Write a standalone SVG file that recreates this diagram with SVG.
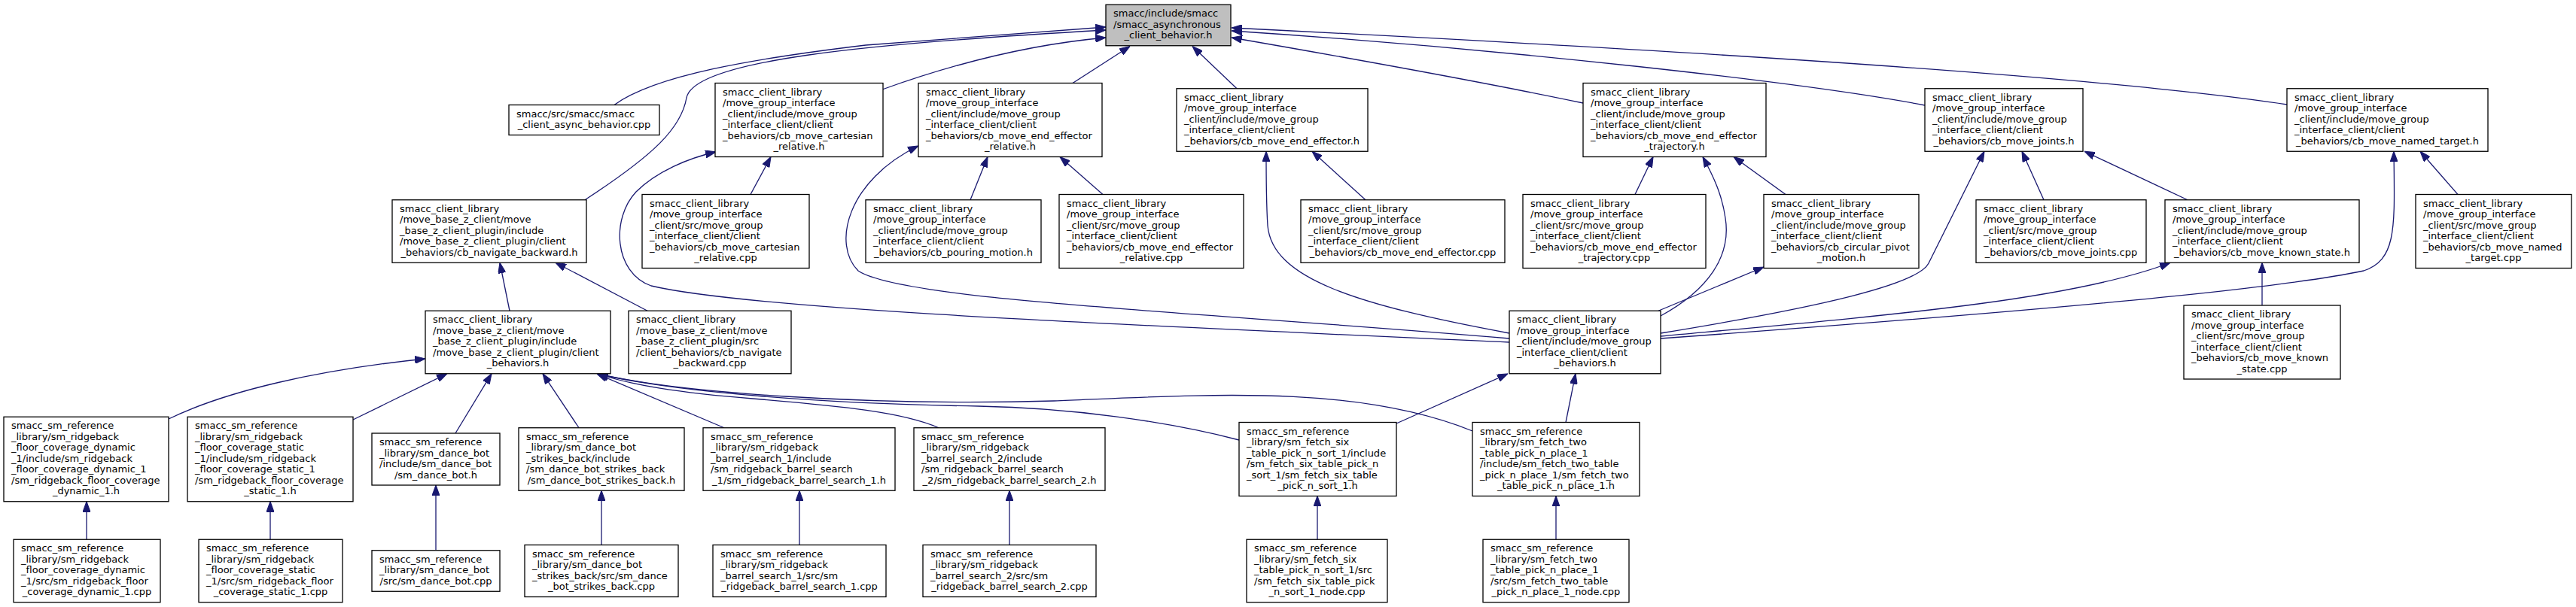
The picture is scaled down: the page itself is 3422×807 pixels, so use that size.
<svg xmlns="http://www.w3.org/2000/svg" width="3422" height="807" viewBox="0 0 3422 807">
<style>
.node rect{fill:#ffffff;stroke:#000000;stroke-width:1.3}
.node.root rect{fill:#bfbfbf}
.node text{font-family:"DejaVu Sans",sans-serif;font-size:13px;fill:#000000}
.c{text-anchor:middle}
.edges path{fill:none;stroke:#191970;stroke-width:1.3;marker-end:url(#ah)}
</style>
<defs>
<marker id="ah" markerUnits="userSpaceOnUse" markerWidth="14" markerHeight="10" viewBox="0 0 13 9.4" refX="13" refY="4.7" orient="auto">
<path d="M0,0 L13,4.7 L0,9.4 z" fill="#191970" stroke="#191970" stroke-width="1"/>
</marker>
</defs>
<rect x="0" y="0" width="3422" height="807" fill="#ffffff"/>
<g id="connectors" class="edges">
<path d="M816,139.5 C870,100 1000,78 1150,60 C1300,48 1420,40 1469,36"/>
<path d="M777,265.75 C870,205 905,170 912,130 C922,80 1150,58 1469,40"/>
<path d="M1172,119 C1280,80 1380,58 1469,50"/>
<path d="M1425,110.5 L1501,61.5"/>
<path d="M1643,117.75 L1584,61.5"/>
<path d="M2103,137 C1950,105 1780,75 1636,50"/>
<path d="M2557,140 C2400,110 2000,65 1636,41"/>
<path d="M3038,139 C2850,110 2400,75 1636,37"/>
<path d="M997,258.5 L1024,208.5"/>
<path d="M1289,265.75 L1312,208.5"/>
<path d="M1465,258.5 L1408,208.5"/>
<path d="M1814,265.75 L1743,201.25"/>
<path d="M2172,258.5 L2196,208.5"/>
<path d="M2372,258.5 L2303,208.5"/>
<path d="M2715,265.75 L2686,201.25"/>
<path d="M2906,265.75 L2769,201.25"/>
<path d="M3265,258.5 L3215,201.25"/>
<path d="M677,413.25 L664,349.25"/>
<path d="M860,413.25 L738,349.25"/>
<path d="M3005,406 L3005,349.25"/>
<path d="M2203,413.25 L2343,355"/>
<path d="M2206,420 C2270,385 2300,340 2292,290 C2288,260 2276,234 2262,208.5"/>
<path d="M2206,443 C2420,408 2548,378 2562,350 L2636,201.25"/>
<path d="M2206,447 C2500,420 2750,400 2883,349.25"/>
<path d="M2206,450 C2550,425 3000,390 3140,360 C3185,345 3181,300 3180,201.25"/>
<path d="M2005,443 C1800,405 1690,370 1684,300 C1682,270 1682,240 1682,201.25"/>
<path d="M2005,450 C1600,415 1200,400 1140,360 C1105,325 1125,240 1220,194"/>
<path d="M2005,455 C1500,432 1000,412 865,380 C815,362 812,290 845,255 C872,228 915,210 951,202"/>
<path d="M1855,563 L2003,497"/>
<path d="M2080,561.5 L2093,496.75"/>
<path d="M224,557 C300,520 420,492 565,477"/>
<path d="M469,558 L594,496.75"/>
<path d="M605,576 L653,496.75"/>
<path d="M769,568.75 L721,496.75"/>
<path d="M962,568.75 L793,497"/>
<path d="M1247,568.75 C1200,548 1120,540 1000,530 C900,522 840,512 794,497"/>
<path d="M1646,585 C1550,560 1420,542 1300,540 C1100,537 900,522 794,497"/>
<path d="M1956,573 C1800,510 1600,525 1400,533 C1150,540 900,522 794,497"/>
<path d="M115,717.25 L115,666.75"/>
<path d="M359,717.25 L359,666.75"/>
<path d="M579,731.75 L579,645"/>
<path d="M799,724.5 L799,652.25"/>
<path d="M1062,724.5 L1062,652.25"/>
<path d="M1341,724.5 L1341,652.25"/>
<path d="M1750,717.25 L1750,659.5"/>
<path d="M2067,717.25 L2067,659.5"/>
</g>
<g id="n_root" class="node root"><rect x="1469" y="6.25" width="166" height="54.5"/><text><tspan x="1479" y="22.3">smacc/include/smacc</tspan><tspan x="1479" y="36.8">/smacc_asynchronous</tspan><tspan class="c" x="1552" y="51.3">_client_behavior.h</tspan></text></g>
<g id="n_async_cpp" class="node"><rect x="676" y="139.5" width="200" height="40"/><text><tspan x="686" y="155.5">smacc/src/smacc/smacc</tspan><tspan class="c" x="776" y="170">_client_async_behavior.cpp</tspan></text></g>
<g id="n_cart_h" class="node"><rect x="950" y="110.5" width="223" height="98"/><text><tspan x="960" y="126.55">smacc_client_library</tspan><tspan x="960" y="141.05">/move_group_interface</tspan><tspan x="960" y="155.55">_client/include/move_group</tspan><tspan x="960" y="170.05">_interface_client/client</tspan><tspan x="960" y="184.55">_behaviors/cb_move_cartesian</tspan><tspan class="c" x="1061.5" y="199.05">_relative.h</tspan></text></g>
<g id="n_eer_h" class="node"><rect x="1220" y="110.5" width="244" height="98"/><text><tspan x="1230" y="126.55">smacc_client_library</tspan><tspan x="1230" y="141.05">/move_group_interface</tspan><tspan x="1230" y="155.55">_client/include/move_group</tspan><tspan x="1230" y="170.05">_interface_client/client</tspan><tspan x="1230" y="184.55">_behaviors/cb_move_end_effector</tspan><tspan class="c" x="1342" y="199.05">_relative.h</tspan></text></g>
<g id="n_ee_h" class="node"><rect x="1563" y="117.75" width="254" height="83.5"/><text><tspan x="1573" y="133.8">smacc_client_library</tspan><tspan x="1573" y="148.3">/move_group_interface</tspan><tspan x="1573" y="162.8">_client/include/move_group</tspan><tspan x="1573" y="177.3">_interface_client/client</tspan><tspan class="c" x="1690" y="191.8">_behaviors/cb_move_end_effector.h</tspan></text></g>
<g id="n_eet_h" class="node"><rect x="2103" y="110.5" width="243" height="98"/><text><tspan x="2113" y="126.55">smacc_client_library</tspan><tspan x="2113" y="141.05">/move_group_interface</tspan><tspan x="2113" y="155.55">_client/include/move_group</tspan><tspan x="2113" y="170.05">_interface_client/client</tspan><tspan x="2113" y="184.55">_behaviors/cb_move_end_effector</tspan><tspan class="c" x="2224.5" y="199.05">_trajectory.h</tspan></text></g>
<g id="n_joints_h" class="node"><rect x="2557" y="117.75" width="210" height="83.5"/><text><tspan x="2567" y="133.8">smacc_client_library</tspan><tspan x="2567" y="148.3">/move_group_interface</tspan><tspan x="2567" y="162.8">_client/include/move_group</tspan><tspan x="2567" y="177.3">_interface_client/client</tspan><tspan class="c" x="2662" y="191.8">_behaviors/cb_move_joints.h</tspan></text></g>
<g id="n_named_h" class="node"><rect x="3038" y="117.75" width="267" height="83.5"/><text><tspan x="3048" y="133.8">smacc_client_library</tspan><tspan x="3048" y="148.3">/move_group_interface</tspan><tspan x="3048" y="162.8">_client/include/move_group</tspan><tspan x="3048" y="177.3">_interface_client/client</tspan><tspan class="c" x="3171.5" y="191.8">_behaviors/cb_move_named_target.h</tspan></text></g>
<g id="n_nav_back_h" class="node"><rect x="521" y="265.75" width="258" height="83.5"/><text><tspan x="531" y="281.8">smacc_client_library</tspan><tspan x="531" y="296.3">/move_base_z_client/move</tspan><tspan x="531" y="310.8">_base_z_client_plugin/include</tspan><tspan x="531" y="325.3">/move_base_z_client_plugin/client</tspan><tspan class="c" x="650" y="339.8">_behaviors/cb_navigate_backward.h</tspan></text></g>
<g id="n_cart_cpp" class="node"><rect x="853" y="258.5" width="222" height="98"/><text><tspan x="863" y="274.55">smacc_client_library</tspan><tspan x="863" y="289.05">/move_group_interface</tspan><tspan x="863" y="303.55">_client/src/move_group</tspan><tspan x="863" y="318.05">_interface_client/client</tspan><tspan x="863" y="332.55">_behaviors/cb_move_cartesian</tspan><tspan class="c" x="964" y="347.05">_relative.cpp</tspan></text></g>
<g id="n_pour_h" class="node"><rect x="1150" y="265.75" width="233" height="83.5"/><text><tspan x="1160" y="281.8">smacc_client_library</tspan><tspan x="1160" y="296.3">/move_group_interface</tspan><tspan x="1160" y="310.8">_client/include/move_group</tspan><tspan x="1160" y="325.3">_interface_client/client</tspan><tspan class="c" x="1266.5" y="339.8">_behaviors/cb_pouring_motion.h</tspan></text></g>
<g id="n_eer_cpp" class="node"><rect x="1407" y="258.5" width="245" height="98"/><text><tspan x="1417" y="274.55">smacc_client_library</tspan><tspan x="1417" y="289.05">/move_group_interface</tspan><tspan x="1417" y="303.55">_client/src/move_group</tspan><tspan x="1417" y="318.05">_interface_client/client</tspan><tspan x="1417" y="332.55">_behaviors/cb_move_end_effector</tspan><tspan class="c" x="1529.5" y="347.05">_relative.cpp</tspan></text></g>
<g id="n_ee_cpp" class="node"><rect x="1728" y="265.75" width="271" height="83.5"/><text><tspan x="1738" y="281.8">smacc_client_library</tspan><tspan x="1738" y="296.3">/move_group_interface</tspan><tspan x="1738" y="310.8">_client/src/move_group</tspan><tspan x="1738" y="325.3">_interface_client/client</tspan><tspan class="c" x="1863.5" y="339.8">_behaviors/cb_move_end_effector.cpp</tspan></text></g>
<g id="n_eet_cpp" class="node"><rect x="2023" y="258.5" width="243" height="98"/><text><tspan x="2033" y="274.55">smacc_client_library</tspan><tspan x="2033" y="289.05">/move_group_interface</tspan><tspan x="2033" y="303.55">_client/src/move_group</tspan><tspan x="2033" y="318.05">_interface_client/client</tspan><tspan x="2033" y="332.55">_behaviors/cb_move_end_effector</tspan><tspan class="c" x="2144.5" y="347.05">_trajectory.cpp</tspan></text></g>
<g id="n_circ_h" class="node"><rect x="2343" y="258.5" width="206" height="98"/><text><tspan x="2353" y="274.55">smacc_client_library</tspan><tspan x="2353" y="289.05">/move_group_interface</tspan><tspan x="2353" y="303.55">_client/include/move_group</tspan><tspan x="2353" y="318.05">_interface_client/client</tspan><tspan x="2353" y="332.55">_behaviors/cb_circular_pivot</tspan><tspan class="c" x="2446" y="347.05">_motion.h</tspan></text></g>
<g id="n_joints_cpp" class="node"><rect x="2625" y="265.75" width="226" height="83.5"/><text><tspan x="2635" y="281.8">smacc_client_library</tspan><tspan x="2635" y="296.3">/move_group_interface</tspan><tspan x="2635" y="310.8">_client/src/move_group</tspan><tspan x="2635" y="325.3">_interface_client/client</tspan><tspan class="c" x="2738" y="339.8">_behaviors/cb_move_joints.cpp</tspan></text></g>
<g id="n_known_h" class="node"><rect x="2876" y="265.75" width="258" height="83.5"/><text><tspan x="2886" y="281.8">smacc_client_library</tspan><tspan x="2886" y="296.3">/move_group_interface</tspan><tspan x="2886" y="310.8">_client/include/move_group</tspan><tspan x="2886" y="325.3">_interface_client/client</tspan><tspan class="c" x="3005" y="339.8">_behaviors/cb_move_known_state.h</tspan></text></g>
<g id="n_named_cpp" class="node"><rect x="3209" y="258.5" width="207" height="98"/><text><tspan x="3219" y="274.55">smacc_client_library</tspan><tspan x="3219" y="289.05">/move_group_interface</tspan><tspan x="3219" y="303.55">_client/src/move_group</tspan><tspan x="3219" y="318.05">_interface_client/client</tspan><tspan x="3219" y="332.55">_behaviors/cb_move_named</tspan><tspan class="c" x="3312.5" y="347.05">_target.cpp</tspan></text></g>
<g id="n_mbz_behaviors_h" class="node"><rect x="565" y="413.25" width="246" height="83.5"/><text><tspan x="575" y="429.3">smacc_client_library</tspan><tspan x="575" y="443.8">/move_base_z_client/move</tspan><tspan x="575" y="458.3">_base_z_client_plugin/include</tspan><tspan x="575" y="472.8">/move_base_z_client_plugin/client</tspan><tspan class="c" x="688" y="487.3">_behaviors.h</tspan></text></g>
<g id="n_nav_back_cpp" class="node"><rect x="835" y="413.25" width="216" height="83.5"/><text><tspan x="845" y="429.3">smacc_client_library</tspan><tspan x="845" y="443.8">/move_base_z_client/move</tspan><tspan x="845" y="458.3">_base_z_client_plugin/src</tspan><tspan x="845" y="472.8">/client_behaviors/cb_navigate</tspan><tspan class="c" x="943" y="487.3">_backward.cpp</tspan></text></g>
<g id="n_mgi_behaviors_h" class="node"><rect x="2005" y="413.25" width="201" height="83.5"/><text><tspan x="2015" y="429.3">smacc_client_library</tspan><tspan x="2015" y="443.8">/move_group_interface</tspan><tspan x="2015" y="458.3">_client/include/move_group</tspan><tspan x="2015" y="472.8">_interface_client/client</tspan><tspan class="c" x="2105.5" y="487.3">_behaviors.h</tspan></text></g>
<g id="n_known_cpp" class="node"><rect x="2901" y="406" width="208" height="98"/><text><tspan x="2911" y="422.05">smacc_client_library</tspan><tspan x="2911" y="436.55">/move_group_interface</tspan><tspan x="2911" y="451.05">_client/src/move_group</tspan><tspan x="2911" y="465.55">_interface_client/client</tspan><tspan x="2911" y="480.05">_behaviors/cb_move_known</tspan><tspan class="c" x="3005" y="494.55">_state.cpp</tspan></text></g>
<g id="n_fcd_h" class="node"><rect x="5" y="554.25" width="219" height="112.5"/><text><tspan x="15" y="570.3">smacc_sm_reference</tspan><tspan x="15" y="584.8">_library/sm_ridgeback</tspan><tspan x="15" y="599.3">_floor_coverage_dynamic</tspan><tspan x="15" y="613.8">_1/include/sm_ridgeback</tspan><tspan x="15" y="628.3">_floor_coverage_dynamic_1</tspan><tspan x="15" y="642.8">/sm_ridgeback_floor_coverage</tspan><tspan class="c" x="114.5" y="657.3">_dynamic_1.h</tspan></text></g>
<g id="n_fcs_h" class="node"><rect x="249" y="554.25" width="220" height="112.5"/><text><tspan x="259" y="570.3">smacc_sm_reference</tspan><tspan x="259" y="584.8">_library/sm_ridgeback</tspan><tspan x="259" y="599.3">_floor_coverage_static</tspan><tspan x="259" y="613.8">_1/include/sm_ridgeback</tspan><tspan x="259" y="628.3">_floor_coverage_static_1</tspan><tspan x="259" y="642.8">/sm_ridgeback_floor_coverage</tspan><tspan class="c" x="359" y="657.3">_static_1.h</tspan></text></g>
<g id="n_dance_h" class="node"><rect x="494" y="576" width="170" height="69"/><text><tspan x="504" y="592.05">smacc_sm_reference</tspan><tspan x="504" y="606.55">_library/sm_dance_bot</tspan><tspan x="504" y="621.05">/include/sm_dance_bot</tspan><tspan class="c" x="579" y="635.55">/sm_dance_bot.h</tspan></text></g>
<g id="n_dbsb_h" class="node"><rect x="689" y="568.75" width="220" height="83.5"/><text><tspan x="699" y="584.8">smacc_sm_reference</tspan><tspan x="699" y="599.3">_library/sm_dance_bot</tspan><tspan x="699" y="613.8">_strikes_back/include</tspan><tspan x="699" y="628.3">/sm_dance_bot_strikes_back</tspan><tspan class="c" x="799" y="642.8">/sm_dance_bot_strikes_back.h</tspan></text></g>
<g id="n_bs1_h" class="node"><rect x="934" y="568.75" width="255" height="83.5"/><text><tspan x="944" y="584.8">smacc_sm_reference</tspan><tspan x="944" y="599.3">_library/sm_ridgeback</tspan><tspan x="944" y="613.8">_barrel_search_1/include</tspan><tspan x="944" y="628.3">/sm_ridgeback_barrel_search</tspan><tspan class="c" x="1061.5" y="642.8">_1/sm_ridgeback_barrel_search_1.h</tspan></text></g>
<g id="n_bs2_h" class="node"><rect x="1214" y="568.75" width="254" height="83.5"/><text><tspan x="1224" y="584.8">smacc_sm_reference</tspan><tspan x="1224" y="599.3">_library/sm_ridgeback</tspan><tspan x="1224" y="613.8">_barrel_search_2/include</tspan><tspan x="1224" y="628.3">/sm_ridgeback_barrel_search</tspan><tspan class="c" x="1341" y="642.8">_2/sm_ridgeback_barrel_search_2.h</tspan></text></g>
<g id="n_fetch6_h" class="node"><rect x="1646" y="561.5" width="209" height="98"/><text><tspan x="1656" y="577.55">smacc_sm_reference</tspan><tspan x="1656" y="592.05">_library/sm_fetch_six</tspan><tspan x="1656" y="606.55">_table_pick_n_sort_1/include</tspan><tspan x="1656" y="621.05">/sm_fetch_six_table_pick_n</tspan><tspan x="1656" y="635.55">_sort_1/sm_fetch_six_table</tspan><tspan class="c" x="1750.5" y="650.05">_pick_n_sort_1.h</tspan></text></g>
<g id="n_fetch2_h" class="node"><rect x="1956" y="561.5" width="222" height="98"/><text><tspan x="1966" y="577.55">smacc_sm_reference</tspan><tspan x="1966" y="592.05">_library/sm_fetch_two</tspan><tspan x="1966" y="606.55">_table_pick_n_place_1</tspan><tspan x="1966" y="621.05">/include/sm_fetch_two_table</tspan><tspan x="1966" y="635.55">_pick_n_place_1/sm_fetch_two</tspan><tspan class="c" x="2067" y="650.05">_table_pick_n_place_1.h</tspan></text></g>
<g id="n_fcd_cpp" class="node"><rect x="18" y="717.25" width="195" height="83.5"/><text><tspan x="28" y="733.3">smacc_sm_reference</tspan><tspan x="28" y="747.8">_library/sm_ridgeback</tspan><tspan x="28" y="762.3">_floor_coverage_dynamic</tspan><tspan x="28" y="776.8">_1/src/sm_ridgeback_floor</tspan><tspan class="c" x="115.5" y="791.3">_coverage_dynamic_1.cpp</tspan></text></g>
<g id="n_fcs_cpp" class="node"><rect x="264" y="717.25" width="191" height="83.5"/><text><tspan x="274" y="733.3">smacc_sm_reference</tspan><tspan x="274" y="747.8">_library/sm_ridgeback</tspan><tspan x="274" y="762.3">_floor_coverage_static</tspan><tspan x="274" y="776.8">_1/src/sm_ridgeback_floor</tspan><tspan class="c" x="359.5" y="791.3">_coverage_static_1.cpp</tspan></text></g>
<g id="n_dance_cpp" class="node"><rect x="494" y="731.75" width="170" height="54.5"/><text><tspan x="504" y="747.8">smacc_sm_reference</tspan><tspan x="504" y="762.3">_library/sm_dance_bot</tspan><tspan class="c" x="579" y="776.8">/src/sm_dance_bot.cpp</tspan></text></g>
<g id="n_dbsb_cpp" class="node"><rect x="697" y="724.5" width="204" height="69"/><text><tspan x="707" y="740.55">smacc_sm_reference</tspan><tspan x="707" y="755.05">_library/sm_dance_bot</tspan><tspan x="707" y="769.55">_strikes_back/src/sm_dance</tspan><tspan class="c" x="799" y="784.05">_bot_strikes_back.cpp</tspan></text></g>
<g id="n_bs1_cpp" class="node"><rect x="947" y="724.5" width="230" height="69"/><text><tspan x="957" y="740.55">smacc_sm_reference</tspan><tspan x="957" y="755.05">_library/sm_ridgeback</tspan><tspan x="957" y="769.55">_barrel_search_1/src/sm</tspan><tspan class="c" x="1062" y="784.05">_ridgeback_barrel_search_1.cpp</tspan></text></g>
<g id="n_bs2_cpp" class="node"><rect x="1226" y="724.5" width="230" height="69"/><text><tspan x="1236" y="740.55">smacc_sm_reference</tspan><tspan x="1236" y="755.05">_library/sm_ridgeback</tspan><tspan x="1236" y="769.55">_barrel_search_2/src/sm</tspan><tspan class="c" x="1341" y="784.05">_ridgeback_barrel_search_2.cpp</tspan></text></g>
<g id="n_fetch6_cpp" class="node"><rect x="1656" y="717.25" width="187" height="83.5"/><text><tspan x="1666" y="733.3">smacc_sm_reference</tspan><tspan x="1666" y="747.8">_library/sm_fetch_six</tspan><tspan x="1666" y="762.3">_table_pick_n_sort_1/src</tspan><tspan x="1666" y="776.8">/sm_fetch_six_table_pick</tspan><tspan class="c" x="1749.5" y="791.3">_n_sort_1_node.cpp</tspan></text></g>
<g id="n_fetch2_cpp" class="node"><rect x="1970" y="717.25" width="194" height="83.5"/><text><tspan x="1980" y="733.3">smacc_sm_reference</tspan><tspan x="1980" y="747.8">_library/sm_fetch_two</tspan><tspan x="1980" y="762.3">_table_pick_n_place_1</tspan><tspan x="1980" y="776.8">/src/sm_fetch_two_table</tspan><tspan class="c" x="2067" y="791.3">_pick_n_place_1_node.cpp</tspan></text></g>
</svg>
